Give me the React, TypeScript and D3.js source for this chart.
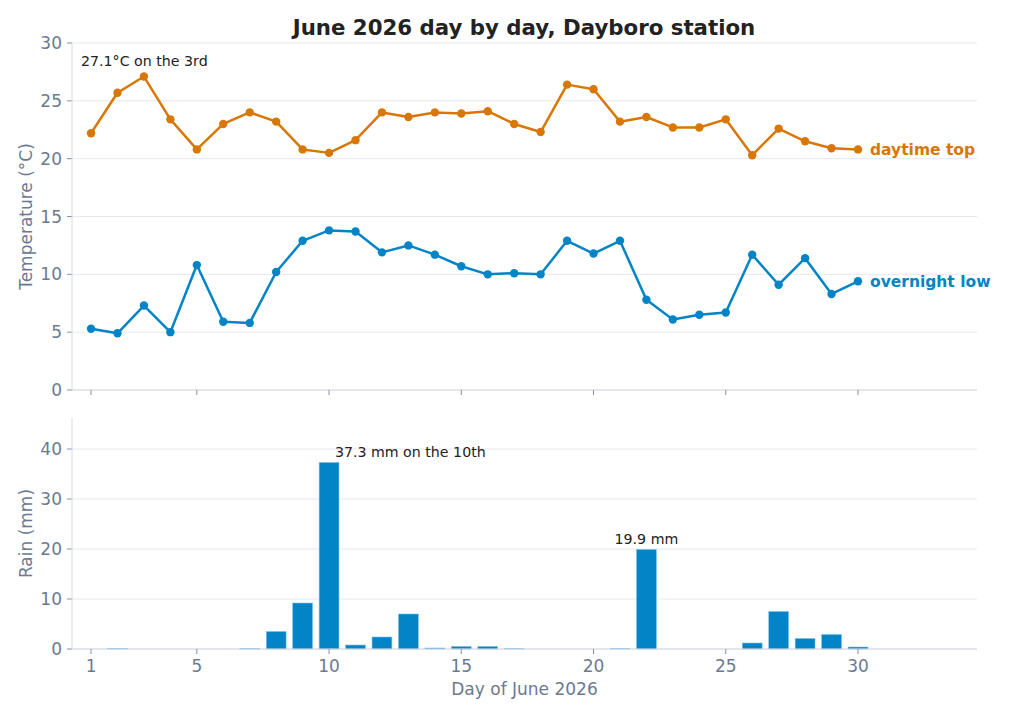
import React from "react";
import * as d3 from "d3";

// June 2026, Dayboro station
const days = d3.range(1, 31);
const highs = [
  22.2, 25.7, 27.1, 23.4, 20.8, 23.0, 24.0, 23.2, 20.8, 20.5,
  21.6, 24.0, 23.6, 24.0, 23.9, 24.1, 23.0, 22.3, 26.4, 26.0,
  23.2, 23.6, 22.7, 22.7, 23.4, 20.3, 22.6, 21.5, 20.9, 20.8,
];
const lows = [
  5.3, 4.9, 7.3, 5.0, 10.8, 5.9, 5.8, 10.2, 12.9, 13.8,
  13.7, 11.9, 12.5, 11.7, 10.7, 10.0, 10.1, 10.0, 12.9, 11.8,
  12.9, 7.8, 6.1, 6.5, 6.7, 11.7, 9.1, 11.4, 8.3, 9.4,
];
const rain = [
  0, 0.1, 0, 0, 0, 0, 0.1, 3.5, 9.2, 37.3,
  0.8, 2.4, 7.0, 0.2, 0.5, 0.5, 0.1, 0, 0, 0,
  0.1, 19.9, 0, 0, 0, 1.2, 7.5, 2.1, 2.9, 0.4,
];
const dayTicks = [1, 5, 10, 15, 20, 25, 30];
const tempTicks = [0, 5, 10, 15, 20, 25, 30];
const rainTicks = [0, 10, 20, 30, 40];

const W = 1024;
const H = 717;
const FONT = "DejaVu Sans, sans-serif";
const ORANGE = "#d97706";
const BLUE = "#0284c7";
const GRID = "#e7e8ee";
const SPINE = "#d6d9e0";
const TICK = "#8391a5";
const MUTED = "#6b7a90";
const INK = "#222222";
const TICK_FS = 17;

const left = 72;
const right = 977;

const x = d3.scaleLinear().domain([0.28, 34.5]).range([left, right]);
const yT = d3.scaleLinear().domain([0, 30]).range([390, 43]);
const yR = d3.scaleLinear().domain([0, 46.2]).range([649, 418]);

const App: React.FC = () => {
  const tempLine = d3.line<number>().x((_, i) => x(days[i])).y((d) => yT(d));
  const barW = x(1.75) - x(1);
  const last = days.length - 1;

  return (
    <svg width={W} height={H} style={{ display: "block", position: "absolute", left: 0, top: 0 }} fontFamily={FONT}>
      <rect width={W} height={H} fill="#ffffff" />
      <text x={524} y={35} textAnchor="middle" fontSize={21.3} fontWeight="bold" fill={INK}>
        June 2026 day by day, Dayboro station
      </text>

      {/* temperature panel */}
      {tempTicks.map((t) => (
        <g key={"tg" + t}>
          <line x1={left} x2={right} y1={yT(t)} y2={yT(t)} stroke={GRID} strokeWidth={1} />
          <line x1={left - 5} x2={left} y1={yT(t)} y2={yT(t)} stroke={TICK} strokeWidth={1} />
          <text x={left - 10} y={yT(t)} dy="0.36em" textAnchor="end" fontSize={TICK_FS} fill={MUTED}>{t}</text>
        </g>
      ))}
      <line x1={left} x2={left} y1={yT(30)} y2={yT(0)} stroke={SPINE} strokeWidth={1} />
      <line x1={left} x2={right} y1={yT(0)} y2={yT(0)} stroke={SPINE} strokeWidth={1} />
      {dayTicks.map((d) => (
        <line key={"tt" + d} x1={x(d)} x2={x(d)} y1={yT(0)} y2={yT(0) + 5} stroke={TICK} strokeWidth={1} />
      ))}
      <text transform={`translate(32,${(yT(0) + yT(30)) / 2}) rotate(-90)`} textAnchor="middle" fontSize={17} fill={MUTED}>
        Temperature (°C)
      </text>

      <path d={tempLine(highs) ?? ""} fill="none" stroke={ORANGE} strokeWidth={2.5} strokeLinejoin="round" />
      {highs.map((v, i) => (
        <circle key={"h" + i} cx={x(days[i])} cy={yT(v)} r={4.2} fill={ORANGE} />
      ))}
      <path d={tempLine(lows) ?? ""} fill="none" stroke={BLUE} strokeWidth={2.5} strokeLinejoin="round" />
      {lows.map((v, i) => (
        <circle key={"l" + i} cx={x(days[i])} cy={yT(v)} r={4.2} fill={BLUE} />
      ))}
      <text x={x(days[last]) + 12} y={yT(highs[last])} dy="0.35em" fontSize={15.5} fontWeight="bold" fill={ORANGE}>
        daytime top
      </text>
      <text x={x(days[last]) + 12} y={yT(lows[last])} dy="0.35em" fontSize={15.5} fontWeight="bold" fill={BLUE}>
        overnight low
      </text>
      <text x={81} y={66} fontSize={14.2} fill={INK}>
        {`${highs[2]}°C on the 3rd`}
      </text>

      {/* rain panel */}
      {rainTicks.map((t) => (
        <g key={"rg" + t}>
          <line x1={left} x2={right} y1={yR(t)} y2={yR(t)} stroke={GRID} strokeWidth={1} />
          <line x1={left - 5} x2={left} y1={yR(t)} y2={yR(t)} stroke={TICK} strokeWidth={1} />
          <text x={left - 10} y={yR(t)} dy="0.36em" textAnchor="end" fontSize={TICK_FS} fill={MUTED}>{t}</text>
        </g>
      ))}
      <line x1={left} x2={left} y1={418} y2={yR(0)} stroke={SPINE} strokeWidth={1} />
      {rain.map((v, i) =>
        v > 0 ? (
          <rect
            key={"r" + i}
            x={x(days[i]) - barW / 2}
            y={yR(v)}
            width={barW}
            height={yR(0) - yR(v)}
            fill={BLUE}
            stroke="#7cc3e8"
            strokeWidth={0.6}
          />
        ) : null
      )}
      <line x1={left} x2={right} y1={yR(0)} y2={yR(0)} stroke={SPINE} strokeWidth={1} />
      {dayTicks.map((d) => (
        <g key={"rt" + d}>
          <line x1={x(d)} x2={x(d)} y1={yR(0)} y2={yR(0) + 5} stroke={TICK} strokeWidth={1} />
          <text x={x(d)} y={yR(0) + 23} textAnchor="middle" fontSize={TICK_FS} fill={MUTED}>{d}</text>
        </g>
      ))}
      <text transform={`translate(32,${(yR(0) + 418) / 2}) rotate(-90)`} textAnchor="middle" fontSize={17} fill={MUTED}>
        Rain (mm)
      </text>
      <text x={(left + right) / 2} y={695} textAnchor="middle" fontSize={17} fill={MUTED}>
        Day of June 2026
      </text>
      <text x={x(10.22)} y={yR(37.3) - 6} fontSize={14.2} fill={INK}>
        {`${rain[9]} mm on the 10th`}
      </text>
      <text x={x(22)} y={yR(19.9) - 6} textAnchor="middle" fontSize={14.2} fill={INK}>
        {`${rain[21]} mm`}
      </text>
    </svg>
  );
};

export default App;
